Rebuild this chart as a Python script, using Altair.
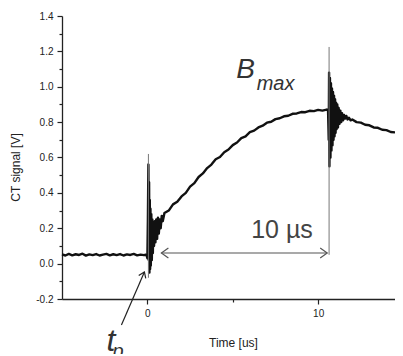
import altair as alt
import pandas as pd

# ---- signal samples (time in us, signal in V) ----
base_t = [-5.0, -4.8, -4.6, -4.4, -4.2, -4.0, -3.8, -3.6, -3.4, -3.2, -3.0, -2.8, -2.6,
          -2.4, -2.2, -2.0, -1.8, -1.6, -1.4, -1.2, -1.0, -0.8, -0.6, -0.4, -0.2]
base_v = [0.052, 0.046, 0.055, 0.047, 0.053, 0.049, 0.056, 0.045, 0.052, 0.048, 0.054, 0.046, 0.051,
          0.055, 0.047, 0.053, 0.048, 0.054, 0.046, 0.052, 0.049, 0.055, 0.047, 0.051, 0.048]

spike1_t = [-0.1, -0.04, 0.0, 0.03, 0.06, 0.08, 0.1, 0.12, 0.14, 0.16, 0.18, 0.2, 0.23, 0.26,
            0.29, 0.32, 0.35, 0.39, 0.43, 0.47, 0.52, 0.57, 0.62, 0.67, 0.72, 0.78, 0.84, 0.9]
spike1_v = [0.05, 0.045, 0.03, 0.25, 0.56, 0.02, 0.46, -0.05, 0.36, -0.03, 0.31, -0.01, 0.28, 0.02,
            0.25, 0.06, 0.22, 0.1, 0.24, 0.12, 0.25, 0.14, 0.26, 0.17, 0.25, 0.2, 0.27, 0.24]

rise_t = [1.0, 1.25, 1.5, 1.75, 2.0, 2.25, 2.5, 2.75, 3.0, 3.25, 3.5, 3.75, 4.0, 4.25, 4.5, 4.75,
          5.0, 5.25, 5.5, 5.75, 6.0, 6.25, 6.5, 6.75, 7.0, 7.25, 7.5, 7.75, 8.0, 8.25, 8.5, 8.75,
          9.0, 9.25, 9.5, 9.75, 10.0, 10.25, 10.5]
rise_v = [0.286, 0.30, 0.335, 0.35, 0.38, 0.40, 0.435, 0.455, 0.49, 0.51, 0.54, 0.56, 0.59, 0.603,
          0.63, 0.645, 0.67, 0.685, 0.71, 0.72, 0.743, 0.752, 0.77, 0.78, 0.797, 0.802, 0.817,
          0.822, 0.833, 0.836, 0.847, 0.849, 0.857, 0.856, 0.864, 0.862, 0.869, 0.865, 0.871]

spike2_t = [10.58, 10.62, 10.64, 10.66, 10.69, 10.72, 10.75, 10.78, 10.81, 10.84, 10.87, 10.9,
            10.93, 10.96, 10.99, 11.02, 11.05, 11.08, 11.12, 11.16, 11.2, 11.25, 11.3, 11.35,
            11.4, 11.46, 11.52, 11.58, 11.65, 11.72, 11.8, 11.9, 12.0]
spike2_v = [0.865, 0.7, 1.08, 0.55, 1.05, 0.6, 1.02, 0.64, 0.99, 0.67, 0.97, 0.7, 0.95, 0.72,
            0.93, 0.74, 0.91, 0.76, 0.9, 0.77, 0.88, 0.79, 0.865, 0.8, 0.85, 0.81, 0.84, 0.82,
            0.835, 0.815, 0.825, 0.81, 0.815]

decay_t = [12.25, 12.5, 12.75, 13.0, 13.25, 13.5, 13.75, 14.0, 14.25, 14.5]
decay_v = [0.8, 0.797, 0.785, 0.782, 0.77, 0.768, 0.757, 0.755, 0.744, 0.742]

curve = pd.DataFrame({
    "t": base_t + spike1_t + rise_t + spike2_t + decay_t,
    "v": base_v + spike1_v + rise_v + spike2_v + decay_v,
})

# ---- axis tick values (major ticks labelled, minor ticks unlabelled) ----
y_ticks = [-0.2, -0.1, 0.0, 0.1, 0.2, 0.3, 0.4, 0.5, 0.6, 0.7, 0.8, 0.9, 1.0, 1.1, 1.2, 1.3, 1.4]
x_ticks = [0, 5, 10]

# ---- annotation values ----
guides = pd.DataFrame({"t": [0.06, 10.64], "v": [-0.08, 0.05], "v2": [0.62, 1.225]})
span = pd.DataFrame({"t": [0.82], "t2": [10.53], "v": [0.06]})
span_heads = pd.DataFrame({"t": [0.82, 10.53], "v": [0.06, 0.06], "ang": [180, 0]})
tp_line = pd.DataFrame({"t": [-1.52], "v": [-0.347], "t2": [-0.175], "v2": [-0.047]})
tp_head = pd.DataFrame({"t": [-0.175], "v": [-0.047], "ang": [293.5]})
txt_normal = pd.DataFrame({"t": [6.08], "v": [0.143], "text": ["10 µs"], "fs": [25]})
txt_italic = pd.DataFrame({
    "t": [5.2, 6.4, -2.4, -2.05],
    "v": [1.049, 0.98, -0.495, -0.535],
    "text": ["B", "max", "t", "p"],
    "fs": [28, 20, 32, 20],
})

FONT = "Liberation Sans"
xs = alt.Scale(domain=[-5, 14.5], nice=False, zero=False)
ys = alt.Scale(domain=[-0.2, 1.4], nice=False, zero=False)

minor_y = "abs(round(datum.value * 10)) % 2 == 1"

x_axis = alt.Axis(
    values=x_ticks, tickCount=10, labelExpr="datum.value == 5 ? '' : datum.label",
    tickSize={"condition": {"test": "datum.value == 5", "value": 3}, "value": 5},
    title="Time  [us]", titleX=171, titleY=43, titleBaseline="middle", titleAlign="center",
    grid=False, labelPadding=4, labelOverlap=False,
)
y_axis = alt.Axis(
    values=y_ticks, tickCount=40,
    labelExpr=f"{minor_y} ? '' : replace(format(datum.value, '.1f'), '\u2212', '-')",
    tickSize={"condition": {"test": minor_y, "value": 3}, "value": 5},
    title="CT signal [V]", titleX=-47, titleY=151, titleBaseline="middle", titleAlign="center",
    titleAngle=270, grid=False, labelPadding=4, labelOverlap=False,
)

line = alt.Chart(curve).mark_line(color="#111", strokeWidth=2.4, strokeJoin="round").encode(
    x=alt.X("t:Q", scale=xs, axis=x_axis),
    y=alt.Y("v:Q", scale=ys, axis=y_axis),
)

guide_rule = alt.Chart(guides).mark_rule(color="#777", strokeWidth=1).encode(
    x="t:Q", y="v:Q", y2="v2:Q")

span_rule = alt.Chart(span).mark_rule(color="#555", strokeWidth=1.2).encode(
    x="t:Q", x2="t2:Q", y="v:Q")

chevron = "M-1,-0.7L0,0L-1,0.7"
span_head = alt.Chart(span_heads).mark_point(
    shape=chevron, filled=False, color="#555", strokeWidth=1.2, size=196, opacity=1
).encode(x="t:Q", y="v:Q", angle=alt.Angle("ang:Q", scale=None))

tp_rule = alt.Chart(tp_line).mark_rule(color="#222", strokeWidth=1.2).encode(
    x="t:Q", y="v:Q", x2="t2:Q", y2="v2:Q")

tp_arrow = alt.Chart(tp_head).mark_point(
    shape=chevron, filled=False, color="#222", strokeWidth=1.2, size=120, opacity=1
).encode(x="t:Q", y="v:Q", angle=alt.Angle("ang:Q", scale=None))

text_n = alt.Chart(txt_normal).mark_text(
    font=FONT, color="#444", align="left", baseline="alphabetic"
).encode(x="t:Q", y="v:Q", text="text:N", size=alt.Size("fs:Q", scale=None))

text_i = alt.Chart(txt_italic).mark_text(
    font=FONT, color="#333", align="left", baseline="alphabetic", fontStyle="italic"
).encode(x="t:Q", y="v:Q", text="text:N", size=alt.Size("fs:Q", scale=None))

chart = alt.layer(
    line, guide_rule, span_rule, span_head, tp_rule, tp_arrow, text_n, text_i
).properties(
    width=333, height=283,
    autosize=alt.AutoSizeParams(type="none"),
    padding={"left": 54, "top": 8, "right": 0, "bottom": 55},
).configure_view(stroke=None).configure_axis(
    domainColor="#222", domainWidth=1.3, tickColor="#222", tickWidth=1.2,
    labelFont=FONT, labelFontSize=10, labelColor="#222",
    titleFont=FONT, titleFontSize=12, titleFontWeight="normal", titleColor="#222",
)

chart.save("out.html", embed_options={"renderer": "svg", "actions": False})
